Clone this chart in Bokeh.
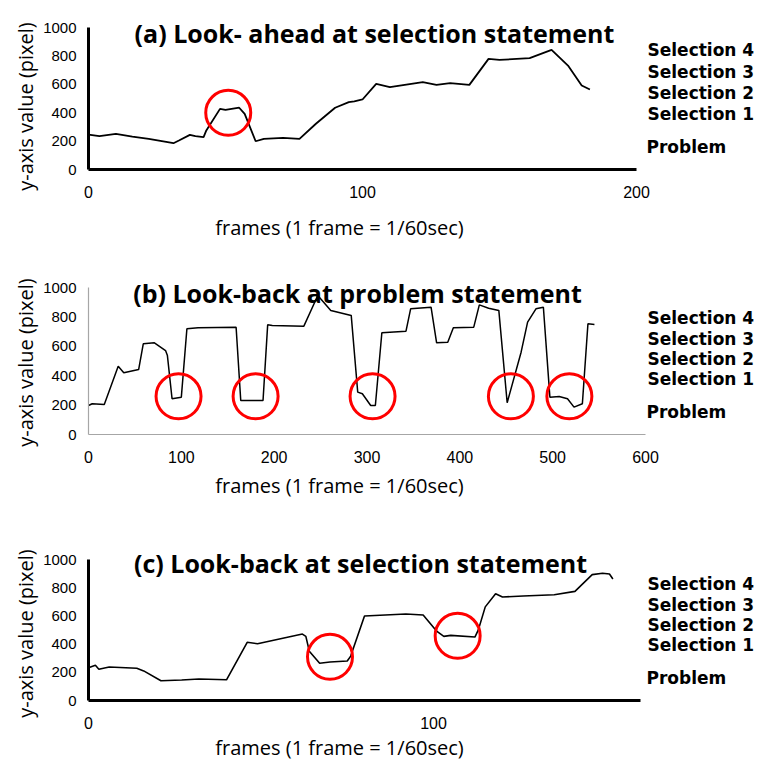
import math
from bokeh.plotting import figure
from bokeh.models import Label, FixedTicker, Range1d, LinearAxis
from bokeh.layouts import column
from bokeh.embed import file_html
from bokeh.resources import INLINE

# ---------------- data ----------------
# (a) Look-ahead at selection statement
frames_a = [0, 4, 10, 16, 22, 31, 33, 37, 39, 42, 43, 48, 50, 55, 57, 61, 64, 71, 77, 83, 90, 95,
            97, 100, 105, 110, 122, 127, 132, 139, 146, 150, 161, 169, 175, 180, 183]
values_a = [246, 235, 251, 232, 216, 185, 204, 244, 235, 228, 275, 427, 420, 435, 392, 199, 216, 223, 216,
            322, 435, 474, 479, 493, 603, 580, 615, 596, 608, 596, 779, 772, 784, 843, 732, 592, 563]
circle_a_frames = [51]
circle_a_values = [399]

# (b) Look-back at problem statement
frames_b = [0, 4, 17, 32, 38, 54, 59, 71, 83, 85, 90, 100, 106, 118, 159, 164, 188, 193, 198,
            232, 247, 261, 283, 290, 295, 304, 309, 316, 342, 347, 369, 375, 387, 393, 415, 421,
            431, 442, 451, 466, 473, 482, 490, 497, 507, 516, 523, 532, 538, 545]
values_b = [197, 209, 204, 465, 420, 442, 617, 624, 571, 537, 243, 254, 719, 726, 730, 231, 231, 746, 741,
            737, 946, 844, 810, 288, 277, 197, 197, 692, 703, 855, 866, 624, 628, 726, 730, 882,
            859, 844, 216, 560, 764, 855, 866, 254, 259, 243, 186, 209, 753, 748]
circle_b_frames = [97, 180, 306, 455, 518]
circle_b_values = [260, 260, 260, 260, 260]

# (c) Look-back at selection statement
frames_c = [0, 2, 3, 6, 14, 16, 21, 27, 32, 40, 46, 49, 62, 63, 64, 67, 70, 75, 76, 80,
            86, 92, 97, 101, 103, 105, 112, 113, 115, 118, 120, 126, 135, 141, 146, 149, 151, 152]
values_c = [233, 250, 222, 238, 229, 210, 140, 145, 152, 147, 413, 403, 471, 455, 350, 264, 273, 280, 315, 599,
            606, 613, 606, 490, 455, 462, 450, 501, 664, 757, 734, 741, 750, 774, 893, 902, 897, 862]
circle_c_frames = [70, 107]
circle_c_values = [310, 459]

titles = ["(a) Look- ahead at selection statement",
          "(b) Look-back at problem statement",
          "(c) Look-back at selection statement"]
x_ticks = [[0, 100, 200], [0, 100, 200, 300, 400, 500, 600], [0, 100]]
x_max = [200, 600, 160]
y_ticks = [0, 200, 400, 600, 800, 1000]
y_max = 1000
level_labels = ["Selection 4", "Selection 3", "Selection 2", "Selection 1", "Problem"]
x_title = "frames (1 frame = 1/60sec)"
y_title = "y-axis value (pixel)"

# ---------------- layout (page pixels) ----------------
W = 757
FL = 88   # page x of frame 0
layouts = [
    dict(top=0, bt=27, fh=142, bb=86, fr=636, title_cx=374, title_base=32, xt_cx=339, xt_base=227,
         yt_cx=25, yt_cy=106,
         lev_y=[49.5, 71, 92, 113, 146], axis_color="black", axis_w=3, line_w=1.8),
    dict(top=255, bt=32, fh=147, bb=81, fr=645, title_cx=357, title_base=292, xt_cx=339, xt_base=485,
         yt_cx=25, yt_cy=362,
         lev_y=[317, 338, 358, 378, 411], axis_color="#a6a6a6", axis_w=1.2, line_w=1.5),
    dict(top=515, bt=44, fh=141, bb=62, fr=640, title_cx=360, title_base=562, xt_cx=339, xt_base=747,
         yt_cx=25, yt_cy=633,
         lev_y=[583, 604, 624, 644, 677], axis_color="black", axis_w=3, line_w=1.6),
]

series = [(frames_a, values_a, circle_a_frames, circle_a_values),
          (frames_b, values_b, circle_b_frames, circle_b_values),
          (frames_c, values_c, circle_c_frames, circle_c_values)]

figs = []
for i, (lay, (fx, fy, cx, cy)) in enumerate(zip(layouts, series)):
    H = lay["bt"] + lay["fh"] + lay["bb"]
    top = lay["top"]
    sx = (lay["fr"] - FL) / x_max[i]      # px per frame
    sy = lay["fh"] / y_max                # px per unit
    xr = Range1d(-FL / sx, x_max[i] + (W - lay["fr"]) / sx)
    yr = Range1d(-lay["bb"] / sy, y_max + lay["bt"] / sy)
    p = figure(width=W, height=H, output_backend="svg", toolbar_location=None,
               x_range=xr, y_range=yr, x_axis_type=None, y_axis_type=None,
               min_border=0)
    p.outline_line_color = None
    p.grid.visible = False
    p.background_fill_color = "white"
    p.border_fill_color = "white"

    xaxis = LinearAxis(fixed_location=0, bounds=(0, x_max[i]),
                       ticker=FixedTicker(ticks=x_ticks[i]))
    yaxis = LinearAxis(fixed_location=0, bounds=(0, y_max),
                       ticker=FixedTicker(ticks=y_ticks))
    for ax in (xaxis, yaxis):
        ax.axis_line_color = lay["axis_color"]
        ax.axis_line_width = lay["axis_w"]
        ax.major_tick_line_color = None
        ax.minor_tick_line_color = None
        ax.major_label_text_color = "black"
        ax.major_label_text_font = "Liberation Sans"
    xaxis.major_label_text_font_size = "16px"
    yaxis.major_label_text_font_size = "15px"
    xaxis.major_label_standoff = 10
    yaxis.major_label_standoff = 6
    p.add_layout(xaxis, "below")
    p.add_layout(yaxis, "left")

    p.line(fx, fy, line_color="black", line_width=lay["line_w"])
    p.scatter(cx, cy, marker="circle", size=45, fill_color=None,
              line_color="#ff0000", line_width=3)

    def sc(X, Y):
        return X, H - (Y - top)

    # title
    tx, ty = sc(lay["title_cx"], lay["title_base"])
    p.add_layout(Label(x=tx, y=ty, x_units="screen", y_units="screen", text=titles[i],
                       text_align="center", text_baseline="alphabetic",
                       text_font="Open Sans", text_font_style="bold",
                       text_font_size="25px", text_color="black"))
    # x axis title
    tx, ty = sc(lay["xt_cx"], lay["xt_base"])
    p.add_layout(Label(x=tx, y=ty, x_units="screen", y_units="screen", text=x_title,
                       text_align="center", text_baseline="alphabetic",
                       text_font="Open Sans", text_font_size="20px", text_color="black"))
    # y axis title
    tx, ty = sc(lay["yt_cx"], lay["yt_cy"])
    p.add_layout(Label(x=tx, y=ty, x_units="screen", y_units="screen", text=y_title,
                       angle=math.pi / 2, text_align="center", text_baseline="middle",
                       text_font="Open Sans", text_font_size="20px", text_color="black"))
    # level labels at the right
    for txt, yy in zip(level_labels, lay["lev_y"]):
        xx = 647 if txt != "Problem" else 646
        tx, ty = sc(xx, yy)
        p.add_layout(Label(x=tx, y=ty, x_units="screen", y_units="screen", text=txt,
                           text_align="left", text_baseline="middle",
                           text_font="DejaVu Sans", text_font_style="bold",
                           text_font_size="17px", text_color="black"))
    figs.append(p)

layout = column(*figs, spacing=0)
open("out.html", "w").write(file_html(layout, INLINE))
